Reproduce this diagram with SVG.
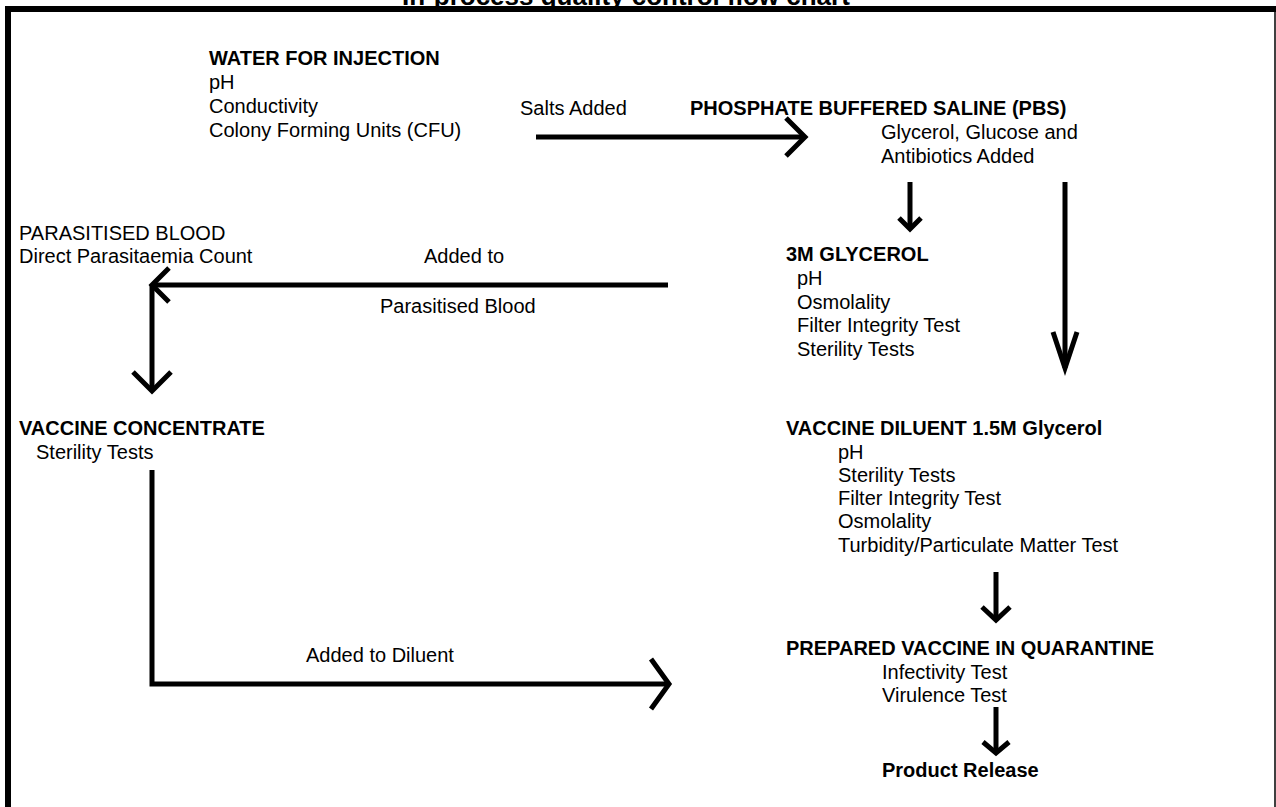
<svg xmlns="http://www.w3.org/2000/svg" width="1276" height="807" viewBox="0 0 1276 807">
<style>
text{font-family:"Liberation Sans",Arial,sans-serif;font-size:20px;fill:#000}
.b{font-weight:bold}
.t{font-weight:bold;font-size:26px}
.ln{stroke:#000;stroke-width:5;fill:none;stroke-linecap:butt;stroke-linejoin:miter}
.fr{stroke:#000;fill:none}
</style>
<rect width="1276" height="807" fill="#fff"/>
<text class="t" x="402" y="4.5">In-process quality control flow chart</text>
<g id="frame">
<line class="fr" x1="5" y1="9" x2="1276" y2="9" stroke-width="6"/>
<line class="fr" x1="8" y1="6" x2="8" y2="807" stroke-width="6"/>
<line class="fr" x1="1275" y1="9" x2="1275" y2="807" stroke-width="1.5"/>
</g>
<g id="connectors">
<path class="ln" d="M536 137H805"/><path class="ln" d="M786 118L805 137L786 156"/>
<path class="ln" d="M910 182V229"/><path class="ln" d="M899 218L910 229L921 218"/>
<path class="ln" d="M1065 182V368"/><path class="ln" d="M1053 332L1065 368L1077 332"/>
<path class="ln" d="M668 285H152"/><path class="ln" d="M169 268L152 285L169 302"/>
<path class="ln" d="M152 285V391"/><path class="ln" d="M133 372L152 391L171 372"/>
<path class="ln" d="M152 470V684H669"/><path class="ln" d="M651 659L669 684L651 709"/>
<path class="ln" d="M996 572V620"/><path class="ln" d="M982 607L996 620L1010 607"/>
<path class="ln" d="M996 707V753"/><path class="ln" d="M983 742L996 753L1009 742"/>
</g>
<g id="lbl-salts"><text x="520" y="115">Salts Added</text></g>
<g id="lbl-added-to"><text x="424" y="263">Added to</text><text x="380" y="313">Parasitised Blood</text></g>
<g id="lbl-diluent"><text x="306" y="662">Added to Diluent</text></g>
<g id="wfi">
<text class="b" x="209" y="65">WATER FOR INJECTION</text>
<text x="209" y="89">pH</text>
<text x="209" y="113">Conductivity</text>
<text x="209" y="137">Colony Forming Units (CFU)</text>
</g>
<g id="pbs">
<text class="b" x="690" y="115">PHOSPHATE BUFFERED SALINE (PBS)</text>
<text x="881" y="139">Glycerol, Glucose and</text>
<text x="881" y="163">Antibiotics Added</text>
</g>
<g id="blood">
<text x="19" y="240">PARASITISED BLOOD</text>
<text x="19" y="263">Direct Parasitaemia Count</text>
</g>
<g id="glycerol3m">
<text class="b" x="786" y="261">3M GLYCEROL</text>
<text x="797" y="285">pH</text>
<text x="797" y="309">Osmolality</text>
<text x="797" y="332">Filter Integrity Test</text>
<text x="797" y="356">Sterility Tests</text>
</g>
<g id="concentrate">
<text class="b" x="19" y="435">VACCINE CONCENTRATE</text>
<text x="36" y="459">Sterility Tests</text>
</g>
<g id="diluent">
<text class="b" x="786" y="435">VACCINE DILUENT 1.5M Glycerol</text>
<text x="838" y="459">pH</text>
<text x="838" y="482">Sterility Tests</text>
<text x="838" y="505">Filter Integrity Test</text>
<text x="838" y="528">Osmolality</text>
<text x="838" y="552">Turbidity/Particulate Matter Test</text>
</g>
<g id="quarantine">
<text class="b" x="786" y="655">PREPARED VACCINE IN QUARANTINE</text>
<text x="882" y="679">Infectivity Test</text>
<text x="882" y="702">Virulence Test</text>
</g>
<g id="release"><text class="b" x="882" y="777">Product Release</text></g>
</svg>
